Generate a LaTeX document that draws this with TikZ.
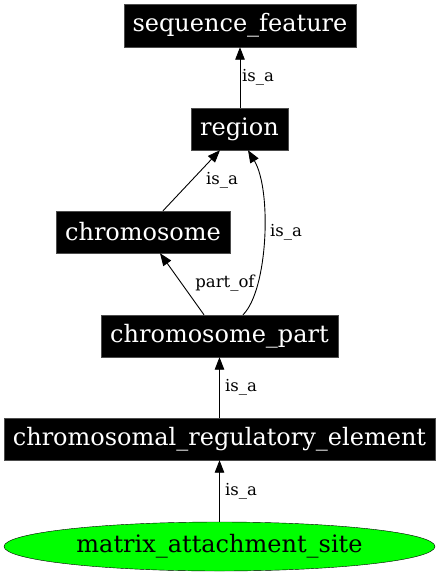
\documentclass[tikz,border=0pt]{standalone}
\usepackage{fontspec}
\setmainfont{DejaVu Serif}
\usetikzlibrary{arrows.meta,shapes.geometric}
\tikzset{
  termbox/.style={fill=black, draw=black!70, text=white, inner sep=0pt,
    font=\fontsize{24}{28}\selectfont},
  leafnode/.style={ellipse, fill=green, draw=black, text=black, inner sep=0pt,
    font=\fontsize{24}{28}\selectfont, minimum width=431pt, minimum height=49pt},
  edge/.style={draw=black, line width=0.9pt, -{Triangle[length=12.5pt,width=9.5pt]}},
  elabel/.style={font=\fontsize{16.5}{20}\selectfont, inner sep=0pt}
}
\begin{document}
\begin{tikzpicture}[x=1pt,y=-1pt]
\useasboundingbox[fill=white] (0,0) rectangle (440,576);
\node[termbox, minimum width=232pt, minimum height=43pt] (sf) at (240,25.5) {sequence\_feature};
\node[termbox, minimum width=97pt, minimum height=42pt] (reg) at (239.5,129) {region};
\node[termbox, minimum width=174pt, minimum height=42pt] (chr) at (143,232) {chromosome};
\node[termbox, minimum width=237pt, minimum height=42pt] (cp) at (219.5,336) {chromosome\_part};
\node[termbox, minimum width=431pt, minimum height=42pt] (cre) at (219.5,439) {chromosomal\_regulatory\_element};
\node[leafnode] (mas) at (219.5,546.5) {matrix\_attachment\_site};

\draw[edge] (reg.north -| sf.south) -- (sf.south);
\node[elabel] (l1) at (258,77) {is\_a};

\draw[edge] ([xshift=20pt]chr.north) -- ([xshift=-19.5pt]reg.south);
\node[elabel] (l2) at (222,180) {is\_a};

\draw[edge] ([xshift=-15.5pt]cp.north) -- ([xshift=17pt]chr.south);
\node[elabel] (l3) at (225,283) {part\_of};

\draw[edge] ([xshift=23.5pt]cp.north) .. controls (268,290) and (272,190) .. ([xshift=8.5pt]reg.south);
\node[elabel] (l4) at (286,232) {is\_a};

\draw[edge] (cre.north) -- (cp.south);
\node[elabel] (l5) at (241,387) {is\_a};

\draw[edge] (mas.north) -- (cre.south);
\node[elabel] (l6) at (241,491) {is\_a};
\end{tikzpicture}
\end{document}
